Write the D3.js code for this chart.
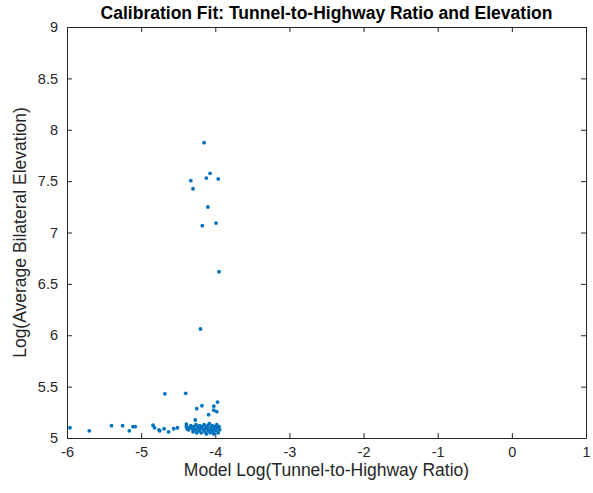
<!DOCTYPE html>
<html>
<head>
<meta charset="utf-8">
<script src="https://cdn.jsdelivr.net/npm/d3@7"></script>
<style>
  body { margin: 0; background: #fff; }
  svg { font-family: "Liberation Sans", Arial, sans-serif; }
</style>
</head>
<body>
<div id="box"></div>
<script>
// values
const xTicks = [-6, -5, -4, -3, -2, -1, 0, 1];
const yTicks = [5, 5.5, 6, 6.5, 7, 7.5, 8, 8.5, 9];

const modelLogRatio = [
  -5.96, -5.70, -5.40, -5.25, -5.16, -5.11, -5.08, -4.84, -4.82, -4.76, -4.75, -4.69, -4.63, -4.56, -4.51,
  -4.68, -4.40, -4.25, -4.18, -4.27, -4.09, -4.02, -3.97, -4.02, -3.98, -4.39,
  -4.39, -4.38, -4.36, -4.35, -4.33, -4.31, -4.30, -4.29, -4.27, -4.26, -4.25, -4.24, -4.22, -4.21,
  -4.20, -4.19, -4.18, -4.16, -4.15, -4.14, -4.13, -4.12, -4.11, -4.10, -4.09, -4.08, -4.07, -4.06,
  -4.05, -4.04, -4.03, -4.02, -4.01, -4.00, -3.99, -3.98, -3.97, -3.96, -3.95, -3.94,
  -4.15, -4.07, -4.33, -4.12, -3.96, -4.30, -4.10, -3.99, -4.175, -3.95, -4.20
];
const logElevation = [
  5.10, 5.07, 5.12, 5.12, 5.07, 5.11, 5.11, 5.125, 5.10, 5.08, 5.07, 5.09, 5.06, 5.09, 5.10,
  5.43, 5.435, 5.285, 5.314, 5.175, 5.227, 5.31, 5.35, 5.27, 5.256, 5.136,
  5.11, 5.09, 5.08, 5.10, 5.12, 5.09, 5.06, 5.11, 5.08, 5.13, 5.05, 5.10, 5.07, 5.12,
  5.09, 5.05, 5.11, 5.08, 5.13, 5.06, 5.10, 5.04, 5.09, 5.12, 5.07, 5.14, 5.05, 5.10,
  5.08, 5.12, 5.06, 5.04, 5.09, 5.11, 5.07, 5.13, 5.10, 5.05, 5.11, 5.08,
  7.874, 7.576, 7.504, 7.53, 7.521, 7.426, 7.248, 7.092, 7.066, 6.618, 6.061
];

const width = 593;
const height = 493;
const padLeft = 67;
const padRight = 7;
const padTop = 27;
const padBottom = 55;
const innerWidth = width - padLeft - padRight;
const innerHeight = height - padTop - padBottom;

const points = modelLogRatio.map((x, i) => ({ x: x, y: logElevation[i] }));

const svg = d3.select('#box').append('svg')
  .attr('width', width)
  .attr('height', height);

const scaleX = d3.scaleLinear().domain([-6, 1]).range([0, innerWidth]);
const scaleY = d3.scaleLinear().domain([5, 9]).range([innerHeight, 0]);

const g = svg.append('g')
  .attr('transform', `translate(${padLeft},${padTop})`);

g.append('rect')
  .attr('width', innerWidth)
  .attr('height', innerHeight)
  .style('fill', 'white');

// axes, ticks pointing inward like matlab
const axisColor = '#262626';
const plain = d => String(d);

const xBottom = g.append('g')
  .attr('transform', `translate(0,${innerHeight})`)
  .call(d3.axisBottom(scaleX).tickValues(xTicks).tickSizeInner(-5).tickSizeOuter(0).tickPadding(9).tickFormat(plain));
const xTop = g.append('g')
  .call(d3.axisTop(scaleX).tickValues(xTicks).tickSizeInner(-5).tickSizeOuter(0));
const yLeft = g.append('g')
  .call(d3.axisLeft(scaleY).tickValues(yTicks).tickSizeInner(-5).tickSizeOuter(0).tickPadding(9).tickFormat(plain));
const yRight = g.append('g')
  .attr('transform', `translate(${innerWidth},0)`)
  .call(d3.axisRight(scaleY).tickValues(yTicks).tickSizeInner(-5).tickSizeOuter(0));

// the box sides carry ticks only
xTop.selectAll('.tick text').remove();
yRight.selectAll('.tick text').remove();

[xBottom, xTop, yLeft, yRight].forEach(a => {
  a.select('.domain').style('stroke', axisColor).style('stroke-width', 1);
  a.selectAll('.tick line').style('stroke', axisColor);
  a.selectAll('text')
    .style('fill', axisColor)
    .style('font-size', '14.5px')
    .style('font-family', '"Liberation Sans", Arial, sans-serif');
});

g.selectAll('.dots').data(points)
  .join('circle')
    .attr('class', 'dots')
    .attr('cx', d => scaleX(d.x))
    .attr('cy', d => scaleY(d.y))
    .attr('r', 1.9)
    .style('fill', '#0072BD');

svg.append('text')
  .attr('x', padLeft + innerWidth / 2)
  .attr('y', 19)
  .attr('text-anchor', 'middle')
  .style('font-weight', 'bold')
  .style('font-size', '17.5px')
  .style('fill', '#000')
  .text('Calibration Fit: Tunnel-to-Highway Ratio and Elevation');

svg.append('text')
  .attr('x', padLeft + innerWidth / 2)
  .attr('y', 476)
  .attr('text-anchor', 'middle')
  .style('font-size', '17.5px')
  .style('fill', axisColor)
  .text('Model Log(Tunnel-to-Highway Ratio)');

svg.append('text')
  .attr('transform', `translate(26,${padTop + innerHeight / 2}) rotate(-90)`)
  .attr('text-anchor', 'middle')
  .style('font-size', '17.5px')
  .style('fill', axisColor)
  .text('Log(Average Bilateral Elevation)');
</script>
</body>
</html>
